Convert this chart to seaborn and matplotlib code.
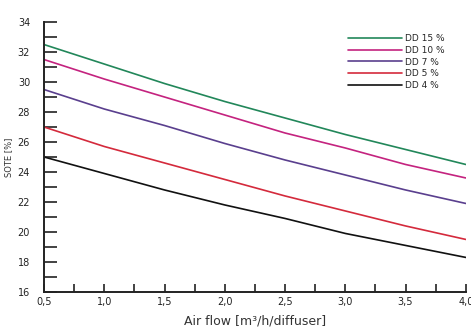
import matplotlib
matplotlib.use("Agg")
import matplotlib.pyplot as plt
import seaborn as sns
import pandas as pd
from matplotlib.ticker import MultipleLocator, FuncFormatter

air_flow = [0.5, 1.0, 1.5, 2.0, 2.5, 3.0, 3.5, 4.0]
dd15 = [32.5, 31.2, 29.9, 28.7, 27.6, 26.5, 25.5, 24.5]
dd10 = [31.5, 30.2, 29.0, 27.8, 26.6, 25.6, 24.5, 23.6]
dd7 = [29.5, 28.2, 27.1, 25.9, 24.8, 23.8, 22.8, 21.9]
dd5 = [27.0, 25.7, 24.6, 23.5, 22.4, 21.4, 20.4, 19.5]
dd4 = [25.0, 23.9, 22.8, 21.8, 20.9, 19.9, 19.1, 18.3]

labels = ["DD 15 %", "DD 10 %", "DD 7 %", "DD 5 %", "DD 4 %"]
series = [dd15, dd10, dd7, dd5, dd4]
colors = ["#22875a", "#c4237f", "#5a3f8e", "#d42a3c", "#111111"]

rows = []
for lab, vals in zip(labels, series):
    for x, v in zip(air_flow, vals):
        rows.append({"Air flow": x, "SOTE": v, "Series": lab})
df = pd.DataFrame(rows)

sns.set_style("ticks")
plt.rcParams["font.family"] = ["DejaVu Sans"]

fig = plt.figure(figsize=(4.71, 3.34), dpi=100)
ax = fig.add_axes([0.0934, 0.126, 0.8956, 0.808])

sns.lineplot(data=df, x="Air flow", y="SOTE", hue="Series", hue_order=labels,
             palette=dict(zip(labels, colors)), linewidth=1.2, ax=ax)

ax.set_xlim(0.5, 4.0)
ax.set_ylim(16, 34)
ax.xaxis.set_major_locator(MultipleLocator(0.5))
ax.xaxis.set_minor_locator(MultipleLocator(0.25))
ax.yaxis.set_major_locator(MultipleLocator(2))
ax.yaxis.set_minor_locator(MultipleLocator(1))
ax.xaxis.set_major_formatter(FuncFormatter(lambda v, p: f"{v:.1f}".replace(".", ",")))
ax.yaxis.set_major_formatter(FuncFormatter(lambda v, p: f"{v:.0f}"))

for s in ["top", "right"]:
    ax.spines[s].set_visible(False)
for s in ["left", "bottom"]:
    ax.spines[s].set_linewidth(1.4)
    ax.spines[s].set_color("#222222")

ax.tick_params(axis="y", which="both", direction="in", length=9, width=1.2,
               labelsize=7, colors="#222222", pad=10)
ax.tick_params(axis="x", which="both", direction="in", length=6, width=1.2,
               labelsize=7, colors="#222222", pad=4)

ax.set_xlabel("Air flow [m³/h/diffuser]", fontsize=9, color="#333333", labelpad=5)
ax.set_ylabel("SOTE [%]", fontsize=6, color="#333333", labelpad=3)

ax.legend(loc="upper right", bbox_to_anchor=(0.97, 0.985), frameon=False,
          fontsize=6.5, handlelength=6.0, labelspacing=0.3, handletextpad=0.4)

fig.savefig("out.png", dpi=100)
